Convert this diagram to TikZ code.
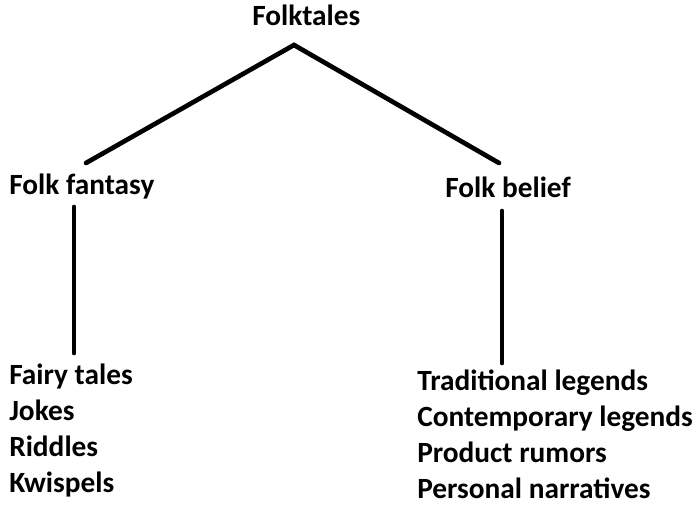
\documentclass[tikz,border=0pt]{standalone}
\usepackage{fontspec}
\setmainfont{Carlito}
\begin{document}
\begin{tikzpicture}[x=0.75pt, y=-0.75pt, font=\fontsize{22}{26}\selectfont\bfseries,
		label/.style={inner sep=0pt, anchor=base west},
		l_2/.style={line width=3.5pt, line cap=round}]
			\useasboundingbox (0,0) rectangle (700,505);
			% headings
			\node[label] (folktales) at (252,26) {Folktales};
			\node[label] (fantasy) at (9,195) {Folk fantasy};
			\node[label] (belief) at (445,198) {Folk belief};
			% lists
			\foreach \t [count=\p] in {Fairy tales, Jokes, Riddles, Kwispels} {
				\node[label] (left\p) at (9,385+\p*36-36) {\t};
			};
			\foreach \t [count=\p] in {Traditional legends, Contemporary legends, Product rumors, Personal narratives} {
				\node[label] (right\p) at (417,391+\p*36-36) {\t};
			};
			% line ends
			\coordinate (top) at (294,45);
			\coordinate (fantasyin) at (86,163);
			\coordinate (beliefin) at (499,163);
			\coordinate (fantasyout) at (74,207);
			\coordinate (listleft) at (74,353);
			\coordinate (beliefout) at (502,211);
			\coordinate (listright) at (502,363);
			\draw[l_2] (fantasyin) -- (top) -- (beliefin);
			\draw[l_2] (fantasyout) -- (listleft);
			\draw[l_2] (beliefout) -- (listright);
		\end{tikzpicture}
\end{document}
